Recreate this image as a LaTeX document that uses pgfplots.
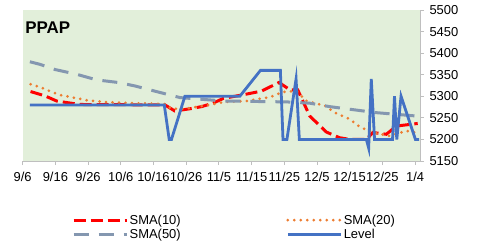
\documentclass[border=0pt]{standalone}
\usepackage{pgfplots}
\pgfplotsset{compat=1.18}
\usepackage{fontspec}
\setmainfont{Liberation Sans}
\definecolor{bgc}{HTML}{E2EFDA}
\definecolor{lvl}{HTML}{4472C4}
\definecolor{smaten}{HTML}{FF0000}
\definecolor{smatw}{HTML}{ED7D31}
\definecolor{smafi}{HTML}{8497B0}
\definecolor{axc}{HTML}{BFBFBF}
\begin{document}
\begin{tikzpicture}
\useasboundingbox (0bp,0bp) rectangle (479bp,248bp);
\begin{axis}[
  at={(22.7bp,87bp)}, anchor=south west,
  scale only axis, width=397.3bp, height=151bp,
  xmin=0, xmax=121.5, ymin=5150, ymax=5500,
  axis background/.style={fill=bgc},
  axis x line*=bottom, axis y line*=right,
  axis line style={axc, line width=0.8bp},
  xtick={0,10,...,120},
  xticklabels={9/6,9/16,9/26,10/6,10/16,10/26,11/5,11/15,11/25,12/5,12/15,12/25,1/4},
  ytick={5150,5200,...,5500},
  tick align=outside, major tick length=4bp,
  tick style={axc, line width=0.8bp},
  ticklabel style={font=\fontsize{13}{15}\selectfont, text=black},
  yticklabel style={xshift=2bp},
  xticklabel style={yshift=-4bp},
  /pgf/number format/.cd, 1000 sep={}, assume math mode=true,
  /pgfplots/.cd,
  legend columns=2,
  legend cell align=left,
  legend style={at={(0.124,-0.345)}, anchor=north west, draw=none, fill=none,
    font=\fontsize{13}{15}\selectfont, inner sep=0pt, row sep=0bp,
    nodes={inner sep=1.5bp},
    /tikz/every even column/.append style={column sep=104bp}},
  legend image code/.code={\draw[#1] (0bp,0bp) -- (53bp,0bp);},
  clip=false,
]
\addplot[smaten, line width=3bp, dash pattern=on 12bp off 5bp] coordinates {
(2.4,5311) (6.8,5301) (10.4,5289) (13.9,5285) (17.5,5281) (43.5,5280)
(46.5,5266) (51.1,5271) (54.7,5276) (58.2,5284) (61.3,5295) (68.4,5305)
(73.0,5312) (78.4,5332) (81.7,5315) (84.1,5315) (87.8,5254) (92.9,5217)
(96.9,5204) (100,5200) (105.1,5200) (107.1,5216) (111.2,5212) (114.3,5231)
(120.8,5237)};
\addlegendentry{SMA(10)}
\addplot[smatw, line width=3bp, line cap=round, dash pattern=on 0bp off 6.5bp] coordinates {
(2.4,5328) (5.8,5320) (8.3,5312) (11.4,5303) (15.5,5297) (19.6,5291)
(24.6,5287) (29.7,5285) (43.5,5282) (45.5,5271) (49.6,5271) (57.7,5281)
(61.8,5287) (68.4,5289) (75.6,5298) (79.6,5310) (83.7,5312) (86.8,5289)
(92.9,5277) (94.9,5264) (100,5247) (103.1,5229) (107.1,5216) (112.2,5208)
(117.3,5220) (120.8,5215)};
\addlegendentry{SMA(20)}
\addplot[smafi, line width=3bp, dash pattern=on 15bp off 10bp] coordinates {
(2.2,5380) (5.3,5374) (9.9,5362) (16.5,5351) (22.6,5338) (29.2,5332)
(34.3,5324) (41.4,5310) (48.1,5297) (54.7,5293) (61.8,5289) (80.7,5287)
(87.8,5284) (93.9,5276) (100,5270) (108.2,5262) (120.8,5254)};
\addlegendentry{SMA(50)}
\addplot[lvl, line width=2.8bp] coordinates {
(2.2,5280) (43.3,5280) (44.8,5200) (45.5,5200) (49.6,5300) (66.4,5300)
(72.7,5360) (78.8,5360) (79.6,5200) (80.8,5200) (83.6,5340) (84.6,5200)
(105.1,5200) (105.8,5180) (106.6,5340) (107.6,5200) (113.1,5200) (113.7,5300)
(114.4,5200) (115.7,5300) (120.1,5200) (121.2,5200)};
\addlegendentry{Level}
\node[anchor=west, inner sep=0pt, font=\fontsize{17}{19}\selectfont\bfseries]
  at (rel axis cs:0.006,0.881) {PPAP};
\end{axis}
\end{tikzpicture}
\end{document}
